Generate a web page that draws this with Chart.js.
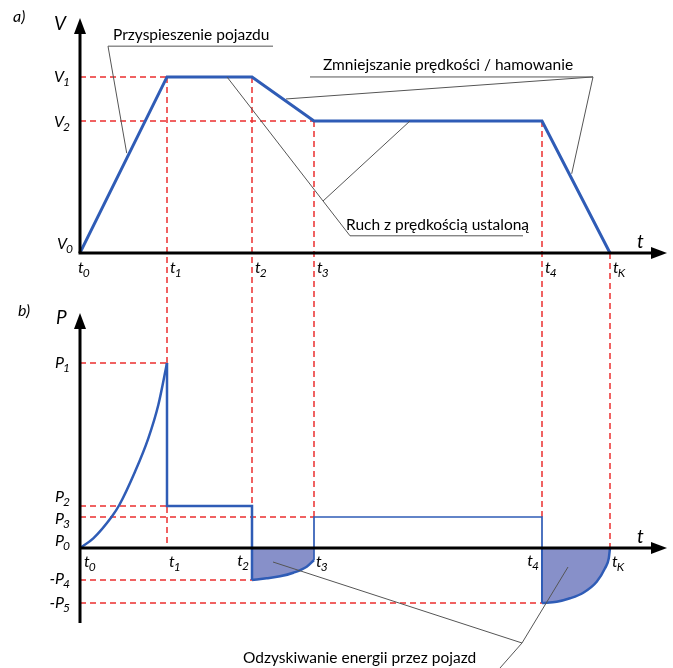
<!DOCTYPE html>
<html>
<head>
<meta charset="utf-8">
<script src="https://cdn.jsdelivr.net/npm/chart.js@4.4.1/dist/chart.umd.min.js"></script>
<style>
  html, body { margin: 0; padding: 0; background: #fff; }
  #wrap { width: 673px; height: 668px; }
</style>
</head>
<body>
<div id="wrap"><canvas id="chart" width="673" height="668"></canvas></div>
<script>
// time instants t0..tK
const tPoints = [0, 8.7, 17.2, 23.4, 46.2, 53.0];
const tSubs = ['0', '1', '2', '3', '4', 'K'];

// a) speed at each instant
const speed = [0, 4, 4, 3, 3, 0];
const vLevels = [0, 4, 3];
const vSubs = ['0', '1', '2'];

// b) power levels P0..P5
const pLevels = [0, 18.5, 4.2, 3.1, -3.2, -5.5];
const pNames = ['P', 'P', 'P', 'P', '-P', '-P'];
const pSubs = ['0', '1', '2', '3', '4', '5'];

// power while accelerating (t0 -> t1)
const accelT = [0, 1.33, 3.17, 3.93, 5.5, 6.83, 7.83, 8.7];
const accelP = [0, 0.97, 3.13, 4.3, 7.63, 10.97, 14.3, 18.5];

// recovered power (t2 -> t3) and (t4 -> tK)
const regen1T = [17.2, 18.67, 20.0, 21.33, 22.67, 23.4];
const regen1P = [-3.2, -3.03, -2.83, -2.47, -1.87, -1.2];
const regen2T = [46.2, 47.67, 49.0, 50.33, 51.67, 52.5, 52.88, 53.0];
const regen2P = [-5.5, -5.37, -5.03, -4.47, -3.37, -2.03, -1.02, 0];

const BLUE = '#2f5cb6';
const RED = '#ec2f2f';
const FILL = '#8790c9';
const NOTE = '#555555';
const LABEL_FONT = '"Lato", "Liberation Sans", sans-serif';
const NOTE_FONT = '"Lato", "Open Sans", sans-serif';

const T = i => tPoints[i];
const P = i => pLevels[i];
const xy = (xs, ys) => xs.map((x, i) => ({ x: x, y: ys[i] }));

function line(ctx, x1, y1, x2, y2) {
  ctx.beginPath();
  ctx.moveTo(x1, y1);
  ctx.lineTo(x2, y2);
  ctx.stroke();
}

// italic letter with subscript
function subLabel(ctx, main, sub, x, y, align, size) {
  ctx.font = 'italic ' + size + 'px ' + LABEL_FONT;
  const w1 = ctx.measureText(main).width;
  const sSize = Math.round(size * 0.72);
  ctx.font = 'italic ' + sSize + 'px ' + LABEL_FONT;
  const w2 = ctx.measureText(sub).width;
  const left = align === 'right' ? x - w1 - w2 + 1 : x;
  ctx.fillStyle = '#000';
  ctx.textAlign = 'left';
  ctx.textBaseline = 'middle';
  ctx.font = 'italic ' + size + 'px ' + LABEL_FONT;
  ctx.fillText(main, left, y);
  ctx.font = 'italic ' + sSize + 'px ' + LABEL_FONT;
  ctx.fillText(sub, left + w1 - 1, y + size * 0.3);
}

function arrowUp(ctx, x, y) {
  ctx.beginPath();
  ctx.moveTo(x, y);
  ctx.lineTo(x - 6, y + 16);
  ctx.lineTo(x + 6, y + 16);
  ctx.closePath();
  ctx.fill();
}

function arrowRight(ctx, x, y) {
  ctx.beginPath();
  ctx.moveTo(x, y);
  ctx.lineTo(x - 16, y - 6);
  ctx.lineTo(x - 16, y + 6);
  ctx.closePath();
  ctx.fill();
}

const guides = {
  id: 'guides',
  beforeDatasetsDraw(chart) {
    const ctx = chart.ctx;
    const x = chart.scales.x, yV = chart.scales.yV, yP = chart.scales.yP;
    const px = v => x.getPixelForValue(v);
    const pv = v => yV.getPixelForValue(v);
    const pp = v => yP.getPixelForValue(v);
    ctx.save();
    ctx.strokeStyle = RED;
    ctx.lineWidth = 1.5;
    ctx.setLineDash([6, 4]);
    // a) horizontal
    line(ctx, px(0), pv(vLevels[1]), px(T(1)), pv(vLevels[1]));
    line(ctx, px(0), pv(vLevels[2]), px(T(3)), pv(vLevels[2]));
    // verticals through both panels
    line(ctx, px(T(1)), pv(vLevels[1]), px(T(1)), pp(0));
    line(ctx, px(T(2)), pv(vLevels[1]), px(T(2)), pp(P(2)));
    line(ctx, px(T(3)), pv(vLevels[2]), px(T(3)), pp(P(3)));
    line(ctx, px(T(4)), pv(vLevels[2]), px(T(4)), pp(P(3)));
    line(ctx, px(T(5)), pv(0), px(T(5)), pp(0));
    // b) horizontal
    line(ctx, px(0), pp(P(1)), px(T(1)), pp(P(1)));
    line(ctx, px(0), pp(P(2)), px(T(1)), pp(P(2)));
    line(ctx, px(0), pp(P(3)), px(T(3)), pp(P(3)));
    line(ctx, px(0), pp(P(4)), px(T(2)), pp(P(4)));
    line(ctx, px(0), pp(P(5)), px(T(4)), pp(P(5)));
    ctx.restore();
  },
  afterDatasetsDraw(chart) {
    const ctx = chart.ctx;
    const area = chart.chartArea;
    const x = chart.scales.x, yV = chart.scales.yV, yP = chart.scales.yP;
    const px = v => x.getPixelForValue(v);
    const pv = v => yV.getPixelForValue(v);
    const pp = v => yP.getPixelForValue(v);
    ctx.save();

    // axes
    ctx.strokeStyle = '#000';
    ctx.fillStyle = '#000';
    ctx.lineWidth = 3;
    const x0 = px(0);
    line(ctx, x0, pv(0), x0, area.top + 10);
    arrowUp(ctx, x0, area.top);
    line(ctx, x0 - 1.5, pv(0), area.right - 10, pv(0));
    arrowRight(ctx, area.right, pv(0));
    const pTop = pp(23.5);
    line(ctx, x0, area.bottom, x0, pTop + 10);
    arrowUp(ctx, x0, pTop);
    line(ctx, x0, pp(0), area.right - 10, pp(0));
    arrowRight(ctx, area.right, pp(0));

    // panel letters and axis names
    ctx.fillStyle = '#000';
    ctx.textBaseline = 'middle';
    ctx.textAlign = 'left';
    ctx.font = 'italic 16px ' + LABEL_FONT;
    ctx.fillText('a)', 13, 17);
    ctx.fillText('b)', 18, 311);
    ctx.font = 'italic 19px ' + LABEL_FONT;
    ctx.fillText('V', x0 - 26, 24);
    ctx.fillText('P', x0 - 24, 318);
    ctx.fillText('t', area.right - 30, pv(0) - 11);
    ctx.fillText('t', area.right - 30, pp(0) - 11);

    // a) tick labels
    subLabel(ctx, 'V', vSubs[0], x0 - 7, pv(0) - 9, 'right', 16);
    subLabel(ctx, 'V', vSubs[1], x0 - 10, pv(vLevels[1]), 'right', 16);
    subLabel(ctx, 'V', vSubs[2], x0 - 10, pv(vLevels[2]) + 1, 'right', 16);
    tPoints.forEach((t, i) => {
      subLabel(ctx, 't', tSubs[i], px(t) + (i === 0 ? -2 : 3), pv(0) + 15, 'left', 16);
    });

    // b) tick labels
    const pOff = [-7, 0, -9, 2, -1, 0];
    pLevels.forEach((p, i) => {
      subLabel(ctx, pNames[i], pSubs[i], x0 - 10, pp(p) + pOff[i], 'right', 16);
    });
    tPoints.forEach((t, i) => {
      if (i === 2 || i === 4) {
        subLabel(ctx, 't', tSubs[i], px(t) - 3, pp(0) + 13, 'right', 16);
      } else {
        subLabel(ctx, 't', tSubs[i], px(t) + (i === 0 ? 4 : 2), pp(0) + 14, 'left', 16);
      }
    });

    // notes with leader lines
    ctx.strokeStyle = NOTE;
    ctx.lineWidth = 1;
    ctx.setLineDash([]);
    ctx.fillStyle = '#000';
    ctx.font = '15.5px ' + NOTE_FONT;
    ctx.textAlign = 'left';
    ctx.textBaseline = 'middle';

    ctx.fillText('Przyspieszenie pojazdu', px(3.3), pv(4.95));
    line(ctx, px(2.8), pv(4.70), px(19.3), pv(4.70));
    line(ctx, px(2.8), pv(4.70), px(4.67), pv(2.27));

    ctx.fillText('Zmniejszanie prędkości / hamowanie', px(24.3), pv(4.27));
    line(ctx, px(23.0), pv(4.0), px(51.3), pv(4.0));
    line(ctx, px(51.3), pv(4.0), px(20.6), pv(3.5));
    line(ctx, px(51.3), pv(4.0), px(49.17), pv(1.8));

    ctx.fillText('Ruch z prędkością ustaloną', px(26.6), pv(0.64));
    line(ctx, px(27.0), pv(0.39), px(44.3), pv(0.39));
    line(ctx, px(27.0), pv(0.39), px(14.7), pv(4.0));
    line(ctx, px(24.3), pv(1.18), px(33.0), pv(3.0));

    ctx.fillText('Odzyskiwanie energii przez pojazd', px(16.3), pp(-11.0));
    line(ctx, px(44.2), pp(-9.5), px(19.3), pp(-1.4));
    line(ctx, px(44.2), pp(-9.5), px(48.8), pp(-1.9));
    line(ctx, px(44.2), pp(-9.5), px(42.0), pp(-12.0));

    ctx.restore();
  }
};

const stepHigh = [
  { x: T(1), y: P(1) }, { x: T(1), y: P(2) },
  { x: T(2), y: P(2) }, { x: T(2), y: P(4) }
];
const cruiseP = [
  { x: T(3), y: regen1P[regen1P.length - 1] }, { x: T(3), y: P(3) },
  { x: T(4), y: P(3) }, { x: T(4), y: 0 }
];
const t4Drop = [{ x: T(4), y: 0 }, { x: T(4), y: P(5) }];

new Chart(document.getElementById('chart'), {
  type: 'line',
  data: {
    datasets: [
      { data: tPoints.map((t, i) => ({ x: t, y: speed[i] })), yAxisID: 'yV',
        borderColor: BLUE, borderWidth: 3, tension: 0 },
      { data: xy(accelT, accelP), yAxisID: 'yP', borderColor: BLUE, borderWidth: 2.5,
        cubicInterpolationMode: 'monotone' },
      { data: stepHigh, yAxisID: 'yP', borderColor: BLUE, borderWidth: 2.5, tension: 0 },
      { data: cruiseP, yAxisID: 'yP', borderColor: BLUE, borderWidth: 1.7, tension: 0 },
      { data: t4Drop, yAxisID: 'yP', borderColor: BLUE, borderWidth: 2, tension: 0 },
      { data: xy(regen1T, regen1P), yAxisID: 'yP', borderColor: BLUE, borderWidth: 2.5,
        cubicInterpolationMode: 'monotone', fill: 'origin', backgroundColor: FILL },
      { data: xy(regen2T, regen2P), yAxisID: 'yP', borderColor: BLUE, borderWidth: 2.5,
        cubicInterpolationMode: 'monotone', fill: 'origin', backgroundColor: FILL }
    ]
  },
  options: {
    responsive: false,
    animation: false,
    layout: { padding: { left: 80, right: 6, top: 18, bottom: 45 } },
    elements: { point: { radius: 0 }, line: { borderCapStyle: 'butt', borderJoinStyle: 'miter' } },
    scales: {
      x: { type: 'linear', min: 0, max: 58.7, display: false },
      yV: { type: 'linear', min: -8.41, max: 5.34, display: false },
      yP: { type: 'linear', min: -7.5, max: 53, display: false }
    },
    plugins: { legend: { display: false }, tooltip: { enabled: false } }
  },
  plugins: [guides]
});
</script>
</body>
</html>
